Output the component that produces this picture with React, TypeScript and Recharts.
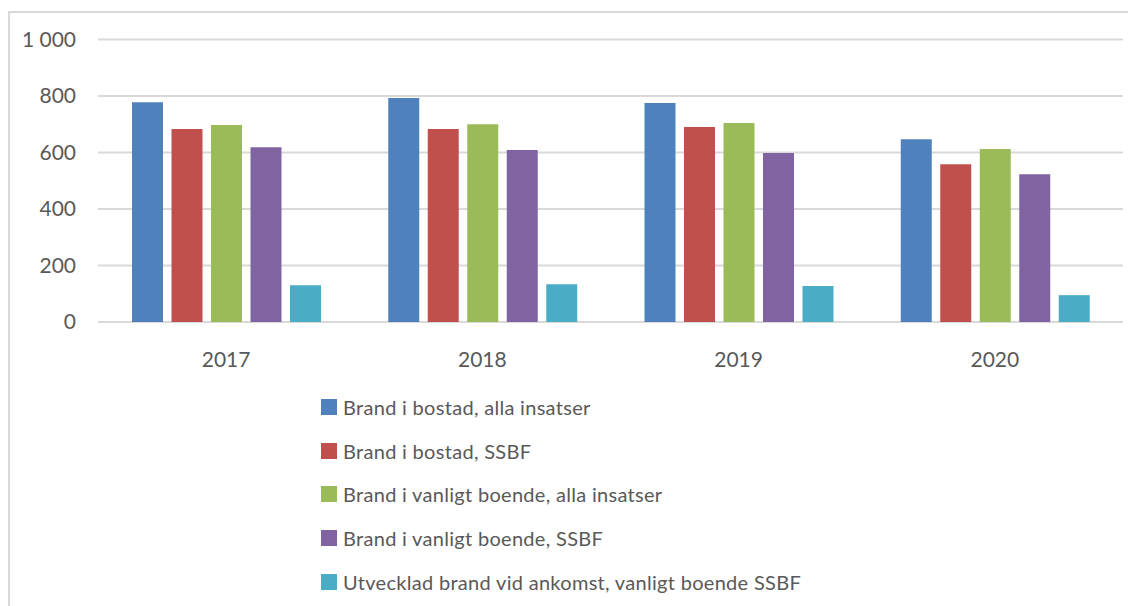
import { BarChart, Bar, XAxis, YAxis, CartesianGrid, Legend } from "recharts";

const years = ["2017", "2018", "2019", "2020"];

const bostadAlla = [778, 793, 775, 647];
const bostadSsbf = [683, 683, 690, 558];
const vanligtAlla = [697, 700, 704, 612];
const vanligtSsbf = [619, 609, 598, 523];
const utveckladSsbf = [130, 134, 127, 95];

const yTicks = [0, 200, 400, 600, 800, 1000];

const series = [
    { key: "bostadAlla", name: "Brand i bostad, alla insatser", color: "#4F81BD", values: bostadAlla },
    { key: "bostadSsbf", name: "Brand i bostad, SSBF", color: "#C0504D", values: bostadSsbf },
    { key: "vanligtAlla", name: "Brand i vanligt boende, alla insatser", color: "#9BBB59", values: vanligtAlla },
    { key: "vanligtSsbf", name: "Brand i vanligt boende, SSBF", color: "#8064A2", values: vanligtSsbf },
    { key: "utveckladSsbf", name: "Utvecklad brand vid ankomst, vanligt boende SSBF", color: "#4BACC6", values: utveckladSsbf },
];

const data = years.map((year, i) => {
    const row: Record<string, string | number> = { year };
    series.forEach((s) => {
        row[s.key] = s.values[i];
    });
    return row;
});

const fmt = (v: number) => String(v).replace(/\B(?=(\d{3})+(?!\d))/g, " ");

const textColor = "#595959";
const gridColor = "#d9d9d9";

// recharts sorts the legend payload, so keep the series order here
function LegendList() {
    return (
        <div>
            {series.map((s) => (
                <div key={s.key} style={{ display: "flex", alignItems: "center", height: 43.7 }}>
                    <span
                        style={{
                            display: "inline-block",
                            width: 16,
                            height: 16,
                            background: s.color,
                            marginRight: 6,
                        }}
                    />
                    <span style={{ fontSize: 20, letterSpacing: 0.3, color: textColor }}>{s.name}</span>
                </div>
            ))}
        </div>
    );
}

export default function App() {
    return (
        <div style={{ position: "relative", width: 1128, height: 598, fontFamily: "Lato, sans-serif" }}>
            <div
                style={{
                    position: "absolute",
                    left: 0,
                    top: 3,
                    width: 1128,
                    height: 595,
                    boxSizing: "border-box",
                    borderTop: `2px solid ${gridColor}`,
                    borderLeft: `2px solid ${gridColor}`,
                }}
            />
            <BarChart
                width={1128}
                height={598}
                data={data}
                margin={{ top: 31.5, right: 13, bottom: 244, left: 0 }}
                barSize={31}
                barGap={8.5}
                style={{ position: "absolute", left: 0, top: 0 }}
            >
                <CartesianGrid vertical={false} stroke={gridColor} strokeWidth={2} />
                <XAxis
                    dataKey="year"
                    axisLine={false}
                    tickLine={false}
                    tickSize={0}
                    tickMargin={30}
                    height={40}
                    tick={{ fill: textColor, fontSize: 21 }}
                />
                <YAxis
                    domain={[0, 1000]}
                    ticks={yTicks}
                    tickFormatter={fmt}
                    axisLine={false}
                    tickLine={false}
                    tickSize={0}
                    tickMargin={22}
                    width={90}
                    tick={{ fill: textColor, fontSize: 21 }}
                />
                <Legend
                    layout="vertical"
                    align="center"
                    verticalAlign="middle"
                    content={<LegendList />}
                    wrapperStyle={{ position: "absolute", left: 313, top: 377, width: 600 }}
                />
                {series.map((s) => (
                    <Bar key={s.key} dataKey={s.key} name={s.name} fill={s.color} isAnimationActive={false} />
                ))}
            </BarChart>
        </div>
    );
}
